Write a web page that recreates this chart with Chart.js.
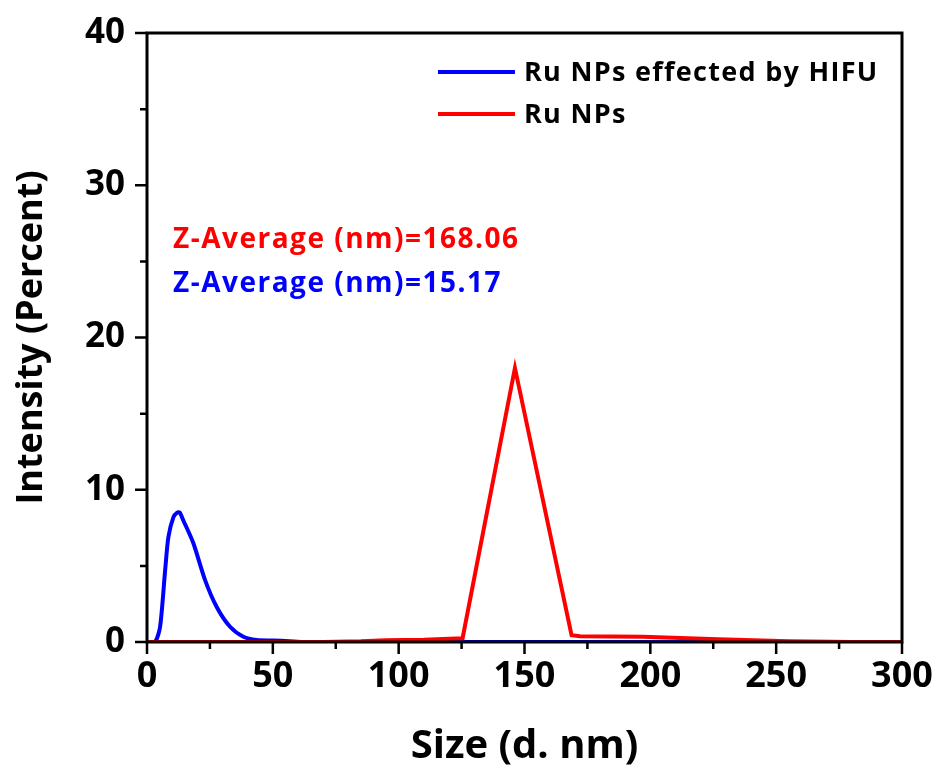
<!DOCTYPE html>
<html>
<head>
<meta charset="utf-8">
<script src="https://cdn.jsdelivr.net/npm/chart.js@4.4.1/dist/chart.umd.min.js"></script>
<style>
  html, body { margin: 0; padding: 0; background: #fff; }
  #wrap { width: 940px; height: 776px; }
</style>
</head>
<body>
<div id="wrap"><canvas id="c" width="940" height="776"></canvas></div>
<script>
// Size distribution by intensity (DLS)
const seriesNames = ['Ru NPs effected by HIFU', 'Ru NPs'];
const seriesColors = ['#0000ff', '#ff0000'];

const hifuSize = [0, 3.2, 5.2, 7.2, 8.5, 10.5, 12, 13, 14.4, 18.4, 23, 27.7, 33, 38.3, 43.6, 50, 56.6, 62, 300];
const hifuIntensity = [0, 0, 1.0, 4.7, 6.9, 8.2, 8.5, 8.5, 8.0, 6.5, 4.1, 2.3, 1.0, 0.35, 0.13, 0.1, 0.05, 0, 0];

const ruSize = [0, 70, 85, 95, 110, 125.4, 146.2, 168.7, 172, 197, 227, 255, 280, 300];
const ruIntensity = [0, 0, 0.05, 0.12, 0.15, 0.25, 18.0, 0.45, 0.38, 0.35, 0.18, 0.05, 0, 0];

const zAverageLabels = ['Z-Average (nm)=168.06', 'Z-Average (nm)=15.17'];
const zAverageColors = ['#ff0000', '#0000ff'];

const xTickValues = [0, 50, 100, 150, 200, 250, 300];
const yTickValues = [0, 10, 20, 30, 40];

const FONT = "'Open Sans', 'Noto Sans', sans-serif";

function pts(xs, ys) { return xs.map((x, i) => ({ x: x, y: ys[i] })); }

// Frame, major/minor tick marks, legend and Z-average notes
const decorations = {
  id: 'decorations',
  afterDraw(chart) {
    const ctx = chart.ctx;
    const a = chart.chartArea;
    const xs = chart.scales.x, ys = chart.scales.y;
    ctx.save();
    ctx.strokeStyle = '#000';
    ctx.lineWidth = 3;
    ctx.strokeRect(a.left, a.top, a.right - a.left, a.bottom - a.top);

    ctx.lineWidth = 2.5;
    ctx.beginPath();
    for (let v = 0; v <= 300; v += 25) {
      const px = xs.getPixelForValue(v);
      const len = v % 50 === 0 ? 12 : 7;
      ctx.moveTo(px, a.bottom);
      ctx.lineTo(px, a.bottom + len);
    }
    for (let v = 0; v <= 40; v += 5) {
      const py = ys.getPixelForValue(v);
      const len = v % 10 === 0 ? 12 : 7;
      ctx.moveTo(a.left, py);
      ctx.lineTo(a.left - len, py);
    }
    ctx.stroke();

    // legend
    ctx.font = 'bold 27px ' + FONT;
    ctx.letterSpacing = '1.3px';
    ctx.textBaseline = 'middle';
    ctx.textAlign = 'left';
    const legendRows = [72, 114];
    seriesNames.forEach((name, i) => {
      const y = legendRows[i];
      ctx.strokeStyle = seriesColors[i];
      ctx.lineWidth = 4;
      ctx.beginPath();
      ctx.moveTo(438, y);
      ctx.lineTo(515, y);
      ctx.stroke();
      ctx.fillStyle = '#000';
      ctx.fillText(name, 524, y + 1);
    });

    // Z-average notes placed in data space
    ctx.font = 'bold 28px ' + FONT;
    ctx.letterSpacing = '1.5px';
    const noteY = [26.4, 23.5];
    zAverageLabels.forEach((t, i) => {
      ctx.fillStyle = zAverageColors[i];
      ctx.fillText(t, xs.getPixelForValue(10.3), ys.getPixelForValue(noteY[i]));
    });
    ctx.letterSpacing = '0px';
    ctx.restore();
  }
};

new Chart(document.getElementById('c'), {
  type: 'line',
  data: {
    datasets: [
      {
        label: seriesNames[0],
        data: pts(hifuSize, hifuIntensity),
        borderColor: seriesColors[0],
        borderWidth: 4,
        pointRadius: 0,
        tension: 0.25,
        order: 1
      },
      {
        label: seriesNames[1],
        data: pts(ruSize, ruIntensity),
        borderColor: seriesColors[1],
        borderWidth: 4,
        pointRadius: 0,
        tension: 0,
        order: 0
      }
    ]
  },
  options: {
    responsive: false,
    animation: false,
    events: [],
    layout: { padding: { top: 33, right: 38, left: 0, bottom: 0 } },
    plugins: { legend: { display: false }, tooltip: { enabled: false } },
    scales: {
      x: {
        type: 'linear',
        min: 0, max: 300,
        afterFit(s) { s.height = 134; },
        afterBuildTicks(s) { s.ticks = xTickValues.map(v => ({ value: v })); },
        border: { display: false },
        grid: { display: true, drawOnChartArea: false, drawTicks: true, tickLength: 12, color: 'rgba(0,0,0,0)', tickColor: 'rgba(0,0,0,0)' },
        ticks: { color: '#000', padding: 1, maxRotation: 0, autoSkip: false, font: { family: FONT, size: 36, weight: 'bold' } },
        title: { display: true, text: 'Size (d. nm)', color: '#000', padding: { top: 0, bottom: 5 }, font: { family: FONT, size: 40, weight: 'bold' } }
      },
      y: {
        type: 'linear',
        min: 0, max: 40,
        afterFit(s) { s.width = 147; },
        afterBuildTicks(s) { s.ticks = yTickValues.map(v => ({ value: v })); },
        border: { display: false },
        grid: { display: true, drawOnChartArea: false, drawTicks: true, tickLength: 12, color: 'rgba(0,0,0,0)', tickColor: 'rgba(0,0,0,0)' },
        ticks: { color: '#000', padding: 10, autoSkip: false, font: { family: FONT, size: 35, weight: 'bold' } },
        title: { display: true, text: 'Intensity (Percent)', color: '#000', padding: { top: 10, bottom: 0 }, font: { family: FONT, size: 36, weight: 'bold' } }
      }
    }
  },
  plugins: [decorations]
});
</script>
</body>
</html>
